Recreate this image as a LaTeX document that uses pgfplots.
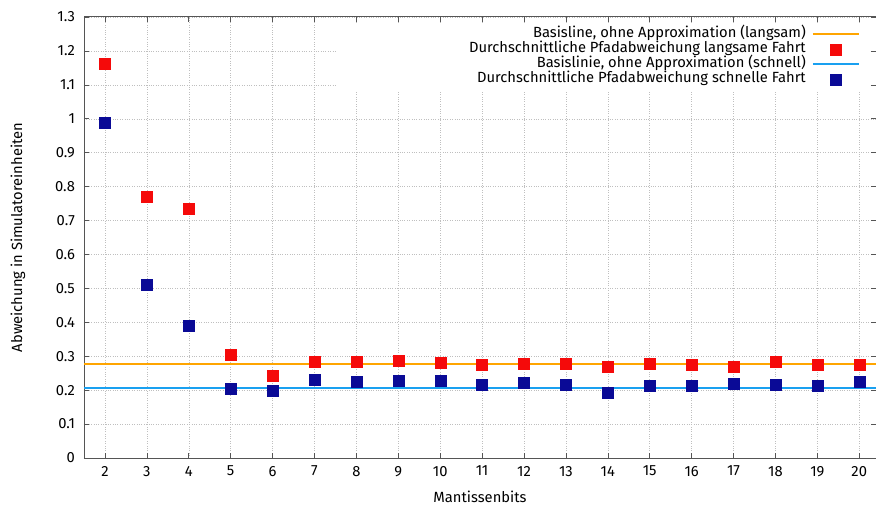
\documentclass[border=0pt]{standalone}
\usepackage{fontspec}
\setmainfont{Fira Sans}
\usepackage{pgfplots}
\pgfplotsset{compat=1.18}

\definecolor{slowred}{RGB}{245,10,10}
\definecolor{fastblue}{RGB}{10,10,150}
\definecolor{baseorange}{RGB}{255,165,0}
\definecolor{baseblue}{RGB}{25,160,240}
\definecolor{framegray}{RGB}{85,85,85}

% wide legend samples: a line, or a single centred mark
\pgfplotsset{
  lineleg/.style={legend image code/.code={\draw[##1] (0bp,0bp) -- (46bp,0bp);}},
  markleg/.style={legend image code/.code={\draw[##1,mark repeat=2,mark phase=2] plot coordinates {(0bp,0bp) (23bp,0bp) (46bp,0bp)};}},
}

\begin{document}
\fontsize{14.8}{16}\selectfont
\begin{tikzpicture}
\begin{axis}[
  scale only axis,
  width=792bp, height=441bp,
  xmin=1.5, xmax=20.4,
  ymin=0, ymax=1.3,
  xtick={2,3,...,20},
  ytick={0,0.1,...,1.3},
  yticklabel style={/pgf/number format/fixed, /pgf/number format/precision=1, xshift=-4bp},
  xticklabel style={yshift=-3bp},
  /pgf/number format/assume math mode=true,
  tick align=inside,
  major tick length=5bp,
  tick style={framegray, line width=0.6pt},
  axis line style={framegray, line width=1pt},
  grid=major,
  major grid style={dotted, gray!50, line width=0.45pt},
  xlabel={Mantissenbits},
  ylabel={Abweichung in Simulatoreinheiten},
  xlabel style={at={(axis description cs:0.5,-0.088)}, anchor=center},
  ylabel style={at={(axis description cs:-0.0833,0.5)}, anchor=center},
  legend plot pos=right,
  legend cell align=right,
  legend style={at={(rel axis cs:1,1)}, anchor=north east,
    xshift=-13bp, yshift=-7bp,
    draw=none, fill=none,
    row sep=-1bp, column sep=4bp,
    nodes={inner ysep=1.5bp, text height=10bp, text depth=3bp}},
]
% white area behind the legend
\fill[white] (rel axis cs:0.318,0.834) rectangle (rel axis cs:0.992,0.984);

% baseline without approximation, slow drive
\addplot[baseorange, line width=2bp, lineleg]
  coordinates {(1.5,0.277) (20.4,0.277)};
\addlegendentry{Basisline, ohne Approximation (langsam)}

% mean path deviation, slow drive
\addplot[only marks, mark=square*, mark size=5.5bp,
  mark options={fill=slowred, draw=slowred, line width=0.3pt}, markleg]
  coordinates {
  (2,1.161) (3,0.769) (4,0.735) (5,0.306) (6,0.242) (7,0.284) (8,0.284)
  (9,0.286) (10,0.281) (11,0.274) (12,0.278) (13,0.279) (14,0.270)
  (15,0.279) (16,0.276) (17,0.270) (18,0.284) (19,0.275) (20,0.276)};
\addlegendentry{Durchschnittliche Pfadabweichung langsame Fahrt}

% baseline without approximation, fast drive
\addplot[baseblue, line width=2bp, lineleg]
  coordinates {(1.5,0.206) (20.4,0.206)};
\addlegendentry{Basislinie, ohne Approximation (schnell)}

% mean path deviation, fast drive
\addplot[only marks, mark=square*, mark size=5.5bp,
  mark options={fill=fastblue, draw=fastblue, line width=0.3pt}, markleg]
  coordinates {
  (2,0.990) (3,0.510) (4,0.390) (5,0.203) (6,0.200) (7,0.232) (8,0.224)
  (9,0.229) (10,0.227) (11,0.216) (12,0.221) (13,0.216) (14,0.194)
  (15,0.212) (16,0.214) (17,0.218) (18,0.216) (19,0.212) (20,0.225)};
\addlegendentry{Durchschnittliche Pfadabweichung schnelle Fahrt}
\end{axis}
\pgfresetboundingbox
\path[use as bounding box]
  ([xshift=-84bp,yshift=-48bp]current axis.south west)
  rectangle ([yshift=17bp]current axis.north east);
\end{tikzpicture}
\end{document}
